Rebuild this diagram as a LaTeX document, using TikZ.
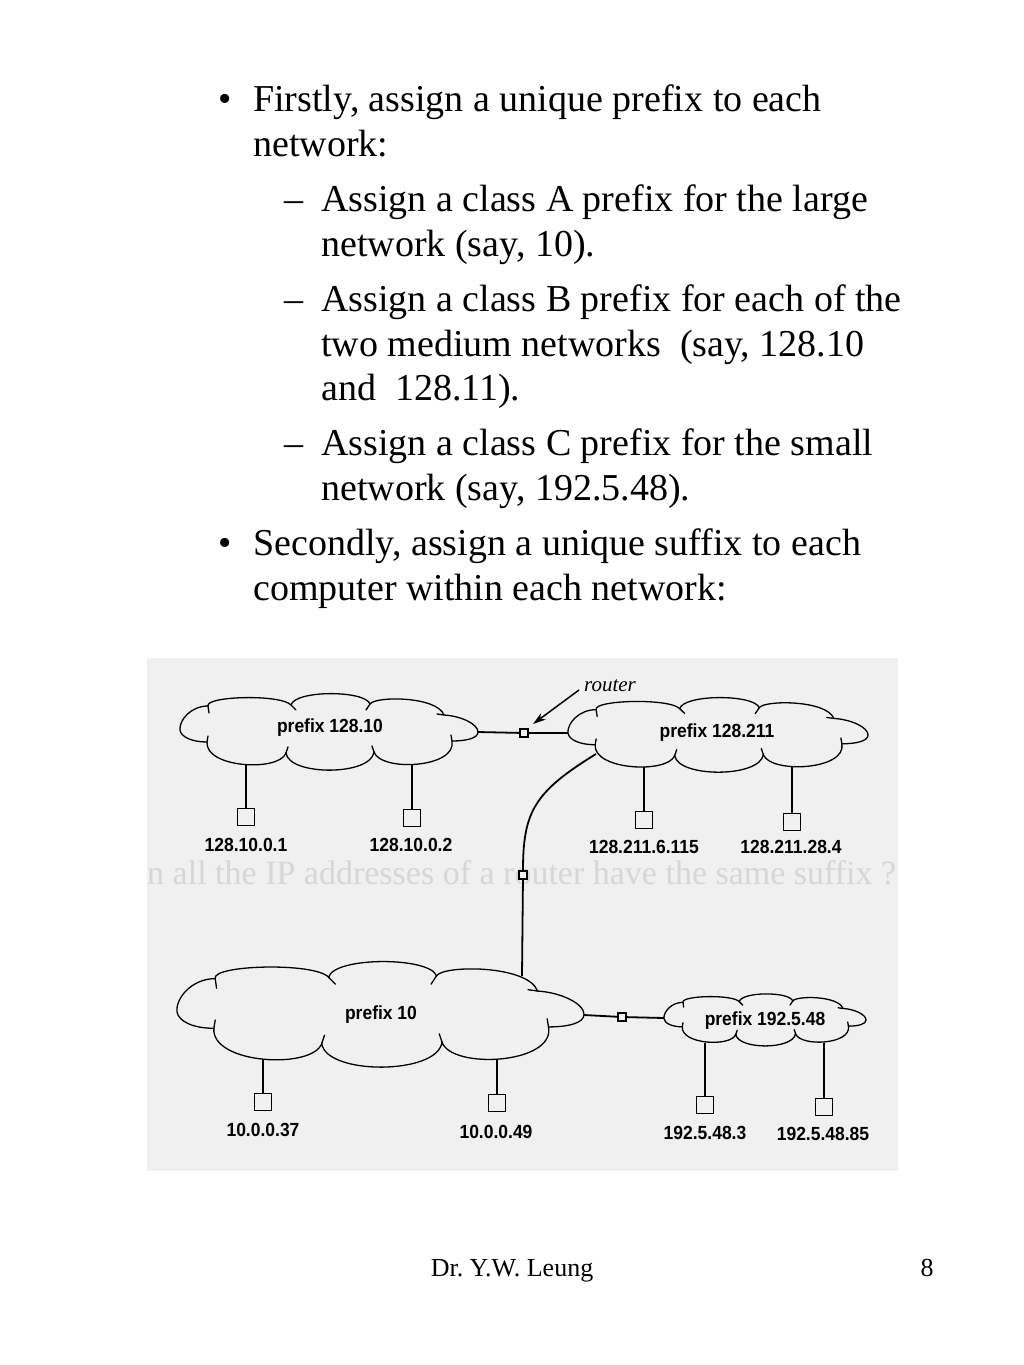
\documentclass[tikz,border=0pt]{standalone}
\usepackage{fontspec}
\setmainfont{Liberation Serif}
\newfontfamily\narrowf[FakeStretch=0.92]{Liberation Sans}
\usetikzlibrary{arrows.meta}
\definecolor{diagbg}{RGB}{240,240,240}
\definecolor{ghost}{RGB}{214,214,214}
\frenchspacing
\newcommand{\netcloud}[4]{%
  \begin{scope}[shift={(#1,#2)}, xscale=#3, yscale=#4]
    \draw[cloudline] (-121,-26)
        .. controls (-124,-36) and (-48,-38) .. (-38,-27)
        .. controls (-34,-42) and (36,-42) .. (41,-28)
        .. controls (46,-36) and (108,-36) .. (115,-17)
        .. controls (132,-16) and (149,-8) .. (149,0)
        .. controls (149,6) and (138,9) .. (123,9)
        .. controls (128,36) and (52,40) .. (45,20)
        .. controls (42,44) and (-40,44) .. (-43,21)
        .. controls (-50,40) and (-124,36) .. (-122,10)
        .. controls (-137,10) and (-148,5) .. (-149,-2)
        .. controls (-150,-12) and (-138,-26) .. cycle;
    \draw[cloudline] (-121,-26) -- (-120,-19);
    \draw[cloudline] (-38,-27) -- (-33,-22);
    \draw[cloudline] (41,-28) -- (37,-22);
    \draw[cloudline] (115,-17) -- (108,-18);
    \draw[cloudline] (123,9) -- (122,3);
    \draw[cloudline] (45,20) -- (43,14);
    \draw[cloudline] (-43,21) -- (-41,15);
    \draw[cloudline] (-122,10) -- (-121,4);
  \end{scope}}
\begin{document}
\begin{tikzpicture}[x=1pt,y=-1pt,
  cloudline/.style={line width=1.3pt, line cap=round, line join=miter},
  wire/.style={line width=1.8pt},
  host/.style={draw, line width=1.4pt, minimum size=17pt, inner sep=0pt},
  router/.style={draw, line width=1.2pt, minimum size=8pt, inner sep=0pt, fill=diagbg},
  iplabel/.style={font=\narrowf\bfseries\fontsize{19}{21}\selectfont, inner sep=0pt},
  cloudtext/.style={font=\narrowf\bfseries\fontsize{19}{21}\selectfont, inner sep=0pt},
  body/.style={font=\fontsize{38}{45}\selectfont, anchor=base west, inner sep=0pt},
  bulletmark/.style={font=\fontsize{38}{45}\selectfont, anchor=base west, inner sep=0pt},
  foot/.style={font=\fontsize{26}{30}\selectfont, anchor=base, inner sep=0pt}]
\useasboundingbox (0,0) rectangle (1024,1365);
\fill[white] (0,0) rectangle (1024,1365);

% ---- bullet text ----
\node[bulletmark] (b1) at (218,111) {•};
\node[body] (t1) at (253,111) {Firstly, assign a unique prefix to each};
\node[body] (t2) at (253,156) {network:};
\node[bulletmark] (d1) at (284,211) {–};
\node[body] (t3) at (321,211) {Assign a class A prefix for the large};
\node[body] (t4) at (321,256) {network (say, 10).};
\node[bulletmark] (d2) at (284,311) {–};
\node[body] (t5) at (321,311) {Assign a class B prefix for each of the};
\node[body] (t6) at (321,356) {two medium networks~ (say, 128.10};
\node[body] (t7) at (321,400) {and~ 128.11).};
\node[bulletmark] (d3) at (284,455) {–};
\node[body] (t8) at (321,455) {Assign a class C prefix for the small};
\node[body] (t9) at (321,500) {network (say, 192.5.48).};
\node[bulletmark] (b2) at (218,555) {•};
\node[body] (t10) at (253,555) {Secondly, assign a unique suffix to each};
\node[body] (t11) at (253,600) {computer within each network:};

% ---- diagram background ----
\fill[diagbg] (147,658) rectangle (898,1171);
\begin{scope}
  \clip (147,658) rectangle (898,1171);
  \node[anchor=base west, inner sep=0pt, text=ghost, font=\fontsize{34}{40}\selectfont] (gh) at (147,884)
    {n all the IP addresses of a router have the same suffix ?};
\end{scope}

% ---- clouds ----
\netcloud{329}{732}{1}{1}
\netcloud{718}{735}{1.007}{0.975}
\netcloud{380.5}{1014.5}{1.366}{1.38}
\netcloud{765}{1020}{0.678}{0.68}

\node[cloudtext] (n1) at (330,728) {prefix 128.10};
\node[cloudtext] (n2) at (717,733) {prefix 128.211};
\node[cloudtext] (n3) at (381,1015) {prefix 10};
\node[cloudtext] (n4) at (765,1021) {prefix 192.5.48};

% ---- attachment points on clouds ----
\coordinate (c1e) at (478,732);
\coordinate (c2w) at (568,733);
\coordinate (c2s) at (596,754);
\coordinate (c3n) at (522,976);
\coordinate (c3e) at (584,1015);
\coordinate (c4w) at (664,1018);
\coordinate (a11) at (246,764);
\coordinate (a12) at (412,764);
\coordinate (a21) at (644,767);
\coordinate (a22) at (792,767);
\coordinate (a31) at (263,1060);
\coordinate (a32) at (497,1060);
\coordinate (a41) at (705,1043);
\coordinate (a42) at (824,1043);

% ---- hosts ----
\node[host] (h11) at (246,817) {};
\node[host] (h12) at (412,818) {};
\node[host] (h21) at (644,820) {};
\node[host] (h22) at (792,822) {};
\node[host] (h31) at (263,1102) {};
\node[host] (h32) at (497,1103) {};
\node[host] (h41) at (705,1105) {};
\node[host] (h42) at (824,1107) {};

\node[iplabel] (l11) at (246,845) {128.10.0.1};
\node[iplabel] (l12) at (411,845) {128.10.0.2};
\node[iplabel] (l21) at (644,847) {128.211.6.115};
\node[iplabel] (l22) at (791,847) {128.211.28.4};
\node[iplabel] (l31) at (263,1130) {10.0.0.37};
\node[iplabel] (l32) at (496,1132) {10.0.0.49};
\node[iplabel] (l41) at (705,1133) {192.5.48.3};
\node[iplabel] (l42) at (823,1134) {192.5.48.85};

\foreach \a/\h in {a11/h11,a12/h12,a21/h21,a22/h22,a31/h31,a32/h32,a41/h41,a42/h42}
  \draw[wire] (\a) -- (\h.north);

% ---- routers ----
\node[router] (r1) at (524,733) {};
\node[router] (r2) at (523,875) {};
\node[router] (r3) at (622,1017) {};

\draw[wire] (c1e) -- (r1) -- (c2w);
\draw[wire] (c3e) -- (r3) -- (c4w);
\draw[wire] (c2s) .. controls (534,792) and (523,812) .. (r2.north);
\draw[wire] (r2) -- (c3n);

% ---- router label ----
\node[font=\itshape\fontsize{21}{24}\selectfont, inner sep=0pt] (rlab) at (610,686) {router};
\coordinate (rtail) at (579,690);
\coordinate (rtip) at (533,724);
\draw[line width=1.5pt, -{Stealth[length=13pt,width=8pt]}] (rtail) -- (rtip);

% ---- footer ----
\node[foot] (f1) at (512,1276) {Dr. Y.W. Leung};
\node[foot] (f2) at (927,1276) {8};
\end{tikzpicture}
\end{document}
